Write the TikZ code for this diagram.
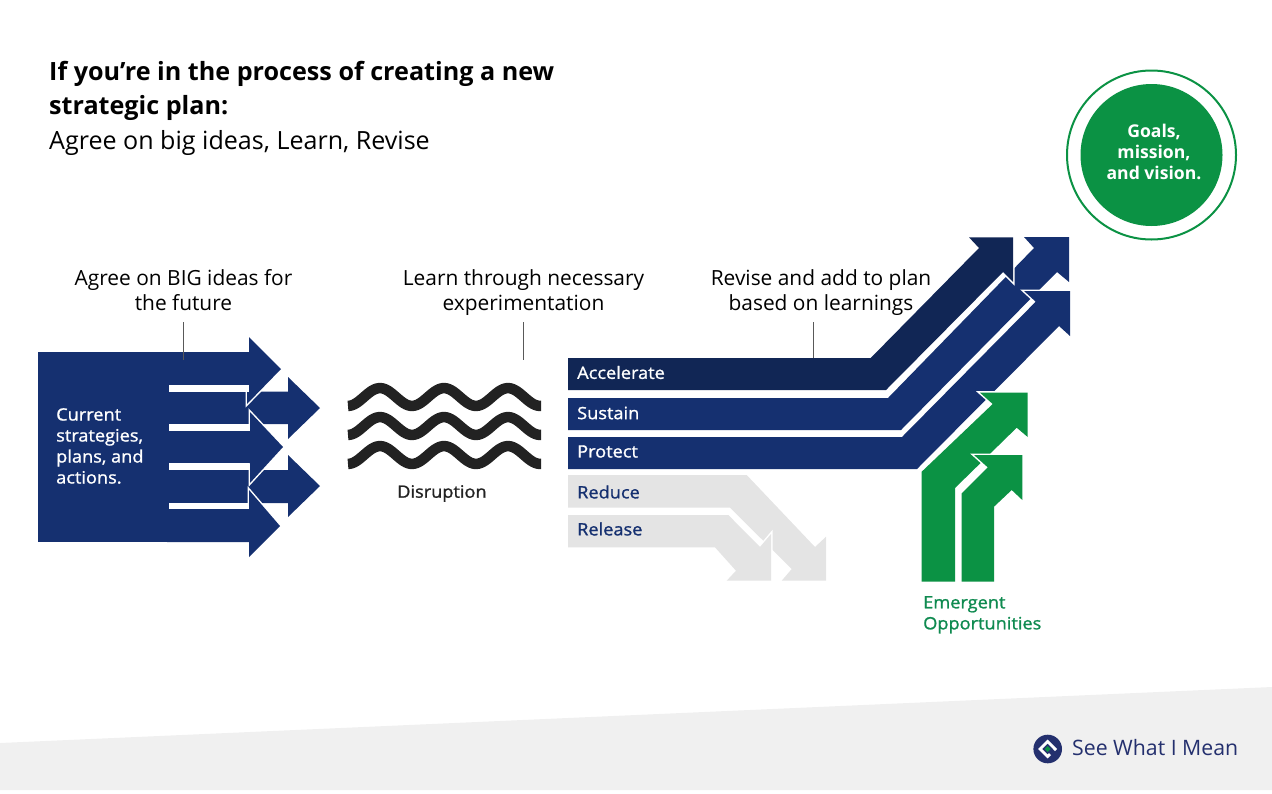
\documentclass[tikz,border=0pt]{standalone}
\usepackage{fontspec}
\setmainfont{Open Sans}
\newfontfamily\semifont{Open Sans}[FakeBold=1.2,FakeStretch=1.07]
\definecolor{navy}{RGB}{21,48,112}
\definecolor{deepnavy}{RGB}{17,38,85}
\definecolor{leaf}{RGB}{11,146,68}
\definecolor{leaftext}{RGB}{15,138,80}
\definecolor{mist}{RGB}{228,228,228}
\definecolor{band}{RGB}{240,240,240}
\definecolor{brand}{RGB}{36,48,110}
\definecolor{ink}{RGB}{34,34,34}
\tikzset{
  halo/.style={preaction={draw=white,line width=3pt,line join=miter}},
  idea/.style={align=center,inner xsep=0pt,inner ysep=0pt,font=\fontsize{20.9}{25}\selectfont},
  leader/.style={draw=black!65,line width=0.9pt},
  tag/.style={anchor=west,inner sep=0pt,font=\semifont\fontsize{17}{21}\selectfont},
}
\begin{document}
\begin{tikzpicture}[x=1pt,y=-1pt]
                \useasboundingbox (0,0) rectangle (1272,793);
                \fill[band] (0,743)--(1272,687)--(1272,790)--(0,790)--cycle;
                \path
                (183.5,360) coordinate (agreeEnd)
                (523,360) coordinate (learnEnd)
                (813,358) coordinate (reviseEnd)
                ;
                \node[anchor=north west,inner sep=0pt,align=left,font=\bfseries\fontsize{25.15}{34.5}\selectfont] (title) at (49,61) {If you’re in the process of creating a new\\strategic plan:};
                \node[anchor=north west,inner sep=0pt,font=\fontsize{25.07}{35}\selectfont] (subtitle) at (49,130) {Agree on big ideas, Learn, Revise};
                \fill[navy] (167,391.7)--(288,391.7)--(288,377)--(320,408)--(288,439)--(288,424)--(167,424)--cycle;
                \fill[navy] (167,470)--(288,470)--(288,455)--(320,486)--(288,517)--(288,503)--(167,503)--cycle;
                \fill[navy,halo] (167,352)--(249,352)--(249,337)--(281,369)--(247,404)--(247,385)--(167,385)--cycle;
                \fill[navy,halo] (167,431)--(250,431)--(250,412)--(283,447)--(250,483)--(250,463)--(167,463)--cycle;
                \fill[navy,halo] (167,509)--(249,509)--(249,490)--(280,526)--(249,557)--(249,542)--(167,542)--cycle;
                \fill[navy] (37.5,352) rectangle (168.5,542);
                \foreach \y/\h in {385/391.7,424/431,463/470,503/509}\fill[white] (168.5,\y) rectangle (249,\h);
                \foreach \off in {0,29,58}\draw[ink,line width=10.5pt] plot[domain=348:541,samples=97] (\x,{397+\off-8.9*cos((\x-380)*5.625)});
                \fill[navy] (568,398)--(888,398)--(1034,248)--(1024,237)--(1069,237)--(1069,282)--(1057,272)--(901,430)--(568,430)--cycle;
                \fill[navy,halo] (568,437)--(902,437)--(1035.7,301.7)--(1024,291)--(1070,291)--(1070,336)--(1059,326)--(917,469)--(568,469)--cycle;
                \fill[deepnavy,halo] (568,358)--(870.7,358)--(979,248)--(969,237.3)--(1013,237.3)--(1013,282)--(1003,272)--(886,390)--(568,390)--cycle;
                \fill[mist] (568,475)--(746.7,475)--(815,547)--(826,536.7)--(826,580.7)--(781.7,580.7)--(791.7,569)--(730,507.7)--(568,507.7)--cycle;
                \fill[mist,halo] (568,515)--(728.3,515)--(760,547)--(771,534)--(771,580.7)--(726.7,580.7)--(736,570.7)--(715,547.3)--(568,547.3)--cycle;
                \fill[leaf,halo] (921.7,581.7)--(921.7,471.7)--(992.7,404)--(980,392.7)--(1027.7,392.7)--(1027.7,437)--(1016.7,427.7)--(955,488)--(955,581.7)--cycle;
                \fill[leaf,halo] (961.7,581.7)--(961.7,493.3)--(987.7,467.3)--(974,455)--(1022.3,455)--(1022.3,500)--(1011.7,490)--(994,506.7)--(994,581.7)--cycle;
                \node[idea] (agree) at (183.5,290) {Agree on BIG ideas for\\the future};
                \node[idea] (learn) at (523.5,292.7) {Learn through necessary\\experimentation};
                \node[idea] (revise) at (821,292.7) {Revise and add to plan\\based on learnings};
                \draw[leader] (agreeEnd|-0,322)--(agreeEnd);
                \draw[leader] (learnEnd|-0,322)--(learnEnd);
                \draw[leader] (reviseEnd|-0,322)--(reviseEnd);
                \node[tag,white,align=left,anchor=north west] (current) at (56,408) {Current\\strategies,\\plans, and\\actions.};
                \node[tag,ink] (disruption) at (397,493.5) {Disruption};
                \foreach \n/\t/\y in {accelerate/Accelerate/372.5,sustain/Sustain/413,protect/Protect/451.5}\node[tag,white] (\n) at (577,\y) {\t};
                \foreach \n/\t/\y in {reduce/Reduce/492,release/Release/529}\node[tag,navy] (\n) at (577,\y) {\t};
                \node[tag,leaftext,align=left,anchor=north west] (emergent) at (923,596) {Emergent\\Opportunities};
                \draw[leaf,line width=2pt] (1151.5,155) circle[radius=84.5pt];
                \fill[leaf] (1151.5,155) circle[radius=71pt];
                \node[align=center,inner sep=0pt,white,font=\bfseries\fontsize{17.6}{21}\selectfont] (goals) at (1154,152) {Goals,\\mission,\\and vision.};
                \fill[brand] (1047.7,749) circle[radius=14.3pt];
                \draw[white,line width=2.8pt] (1050,754.2)--(1047.7,756.5)--(1040.2,749)--(1047.7,741.5)--(1055.2,749)--(1054,750.2);
                \fill[leaf] (1047.7,746)--(1050.7,749)--(1047.7,752)--(1044.7,749)--cycle;
                \node[anchor=west,inner sep=0pt,brand,font=\fontsize{21.25}{25}\selectfont] (brandname) at (1072,748) {See What I Mean};
            \end{tikzpicture}
\end{document}
